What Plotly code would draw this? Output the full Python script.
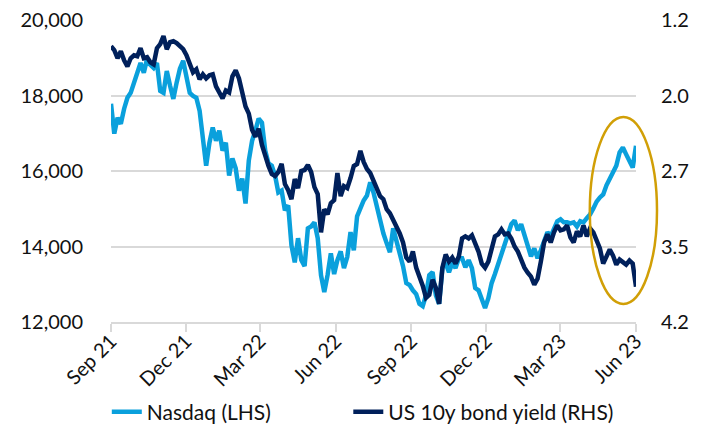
import pandas as pd
import plotly.graph_objects as go

# ---- data ----
start_date = "2021-09-01"
end_date = "2023-06-01"

nasdaq = [
    17780, 16990, 17410, 17250, 17650, 17940, 18070, 18340, 18520, 18860,
    18600, 18970, 18810, 18730, 18860, 18120, 18070, 18650, 18260, 17910,
    18340, 18710, 18920, 18520, 18070, 17990, 17940, 17600, 16800, 16140,
    16750, 17150, 16800, 17070, 16540, 16750, 15880, 16330, 16070, 15480,
    15800, 15140, 16280, 16800, 17070, 17390, 17280, 16540, 16200, 16140,
    15880, 15430, 15480, 14960, 15090, 14030, 13580, 14220, 13640, 13480,
    14480, 14530, 14640, 14220, 13240, 12790, 13240, 13820, 13270, 13640,
    13870, 13430, 13720, 14380, 13900, 14800, 15010, 15220, 15350, 15700,
    15430, 15040, 14690, 14350, 14090, 13850, 14480, 14160, 13870, 13480,
    13030, 12980, 12840, 12740, 12480, 12420, 12710, 13240, 13320, 12710,
    12480, 13430, 13560, 13320, 13560, 13430, 13690, 13690, 13450, 13640,
    13430, 12900, 12840, 12630, 12370, 12630, 13030, 13270, 13530, 13740,
    13980, 14240, 14590, 14690, 14430, 14590, 14270, 14010, 13740, 13950,
    13690, 13900, 14160, 14380, 14270, 14480, 14670, 14720, 14640, 14640,
    14610, 14640, 14530, 14670, 14640, 14750, 14850, 15010, 15190, 15300,
    15380, 15620, 15800, 15960, 16140, 16490, 16620, 16440, 16280, 16090,
    16670,
]

us10y = [
    1.46, 1.50, 1.58, 1.51, 1.60, 1.66, 1.58, 1.55, 1.56, 1.48,
    1.58, 1.57, 1.62, 1.64, 1.48, 1.44, 1.36, 1.49, 1.42, 1.41,
    1.43, 1.46, 1.49, 1.55, 1.63, 1.72, 1.69, 1.79, 1.74, 1.78,
    1.75, 1.74, 1.86, 1.91, 1.98, 1.90, 1.92, 1.76, 1.70, 1.78,
    1.92, 2.06, 2.13, 2.29, 2.36, 2.28, 2.44, 2.56, 2.65, 2.73,
    2.75, 2.71, 2.63, 2.83, 2.89, 2.98, 2.78, 2.87, 2.70, 2.69,
    2.64, 2.71, 2.86, 2.93, 3.31, 3.08, 3.13, 3.02, 2.99, 2.72,
    2.95, 2.85, 2.87, 2.77, 2.65, 2.63, 2.50, 2.61, 2.68, 2.72,
    2.80, 2.87, 2.95, 2.98, 3.08, 3.12, 3.18, 3.26, 3.32, 3.41,
    3.56, 3.60, 3.50, 3.66, 3.74, 3.84, 3.96, 3.93, 3.78, 3.86,
    4.02, 3.66, 3.53, 3.60, 3.56, 3.62, 3.55, 3.37, 3.35, 3.37,
    3.34, 3.41, 3.50, 3.62, 3.66, 3.60, 3.45, 3.35, 3.33, 3.28,
    3.33, 3.32, 3.37, 3.45, 3.50, 3.58, 3.66, 3.71, 3.75, 3.83,
    3.77, 3.60, 3.41, 3.33, 3.41, 3.31, 3.24, 3.29, 3.28, 3.24,
    3.36, 3.41, 3.30, 3.35, 3.24, 3.35, 3.27, 3.31, 3.39, 3.47,
    3.62, 3.55, 3.48, 3.54, 3.63, 3.58, 3.60, 3.63, 3.59, 3.62,
    3.85,
]

x_tick_dates = ["2021-09-01", "2021-12-01", "2022-03-01", "2022-06-01",
                "2022-09-01", "2022-12-01", "2023-03-01", "2023-06-01"]
x_tick_labels = ["Sep 21", "Dec 21", "Mar 22", "Jun 22",
                 "Sep 22", "Dec 22", "Mar 23", "Jun 23"]
left_ticks = [12000, 14000, 16000, 18000, 20000]
right_tick_vals = [1.2, 1.95, 2.7, 3.45, 4.2]
right_tick_labels = ["1.2", "2.0", "2.7", "3.5", "4.2"]

series_names = ["Nasdaq (LHS)", "US 10y bond yield (RHS)"]

dates = pd.date_range(start_date, end_date, periods=len(nasdaq))

LIGHT = "#0AA0DC"
NAVY = "#00205B"
GRID = "#D9D9D9"
FONT = "Lato"
TXT = "#111111"
TICK_SIZE = 20
LEG_SIZE = 21

fig = go.Figure()
fig.add_trace(go.Scatter(x=dates, y=nasdaq, name=series_names[0], mode="lines",
                         line=dict(color=LIGHT, width=4.5), yaxis="y",
                         legend="legend"))
fig.add_trace(go.Scatter(x=dates, y=us10y, name=series_names[1], mode="lines",
                         line=dict(color=NAVY, width=4.5), yaxis="y2",
                         legend="legend2"))

leg_common = dict(orientation="h", yanchor="middle", y=-0.298, xanchor="left",
                  font=dict(size=LEG_SIZE, family=FONT, color=TXT),
                  bgcolor="rgba(0,0,0,0)")

fig.update_layout(
    width=704, height=432,
    margin=dict(l=111, r=68, t=20, b=110, autoexpand=False),
    paper_bgcolor="white", plot_bgcolor="white",
    font=dict(family=FONT, size=TICK_SIZE, color=TXT),
    showlegend=True,
    legend=dict(x=-0.008, **leg_common),
    legend2=dict(x=0.452, **leg_common),
    xaxis=dict(
        type="date", range=[start_date, end_date], automargin=False,
        tickmode="array", tickvals=x_tick_dates, ticktext=x_tick_labels,
        tickangle=-45, showgrid=False, zeroline=False,
        showline=True, linecolor=GRID, linewidth=1.5,
        ticks="outside", ticklen=8, tickcolor=GRID, tickwidth=1.5,
        ticklabelstandoff=-10,
        tickfont=dict(size=TICK_SIZE, family=FONT, color=TXT),
    ),
    yaxis=dict(
        range=[12000, 20000], tickmode="array", tickvals=left_ticks,
        tickformat=",", showgrid=True, gridcolor=GRID, gridwidth=1.5,
        zeroline=False, showline=False, ticks="", automargin=False,
        ticklabelstandoff=27,
        tickfont=dict(size=TICK_SIZE, family=FONT, color=TXT),
    ),
    yaxis2=dict(
        range=[4.2, 1.2], overlaying="y", side="right", automargin=False,
        tickmode="array", tickvals=right_tick_vals, ticktext=right_tick_labels,
        showgrid=False, zeroline=False, showline=False, ticks="",
        ticklabelstandoff=24,
        tickfont=dict(size=TICK_SIZE, family=FONT, color=TXT),
    ),
)

fig.add_shape(type="circle", xref="paper", yref="paper",
              x0=0.912, x1=1.040, y0=0.060, y1=0.679,
              line=dict(color="#D19F06", width=2.5), layer="above")

fig.write_html("out.html", config={"displayModeBar": False},
               post_script="document.body.style.margin='0px';")
